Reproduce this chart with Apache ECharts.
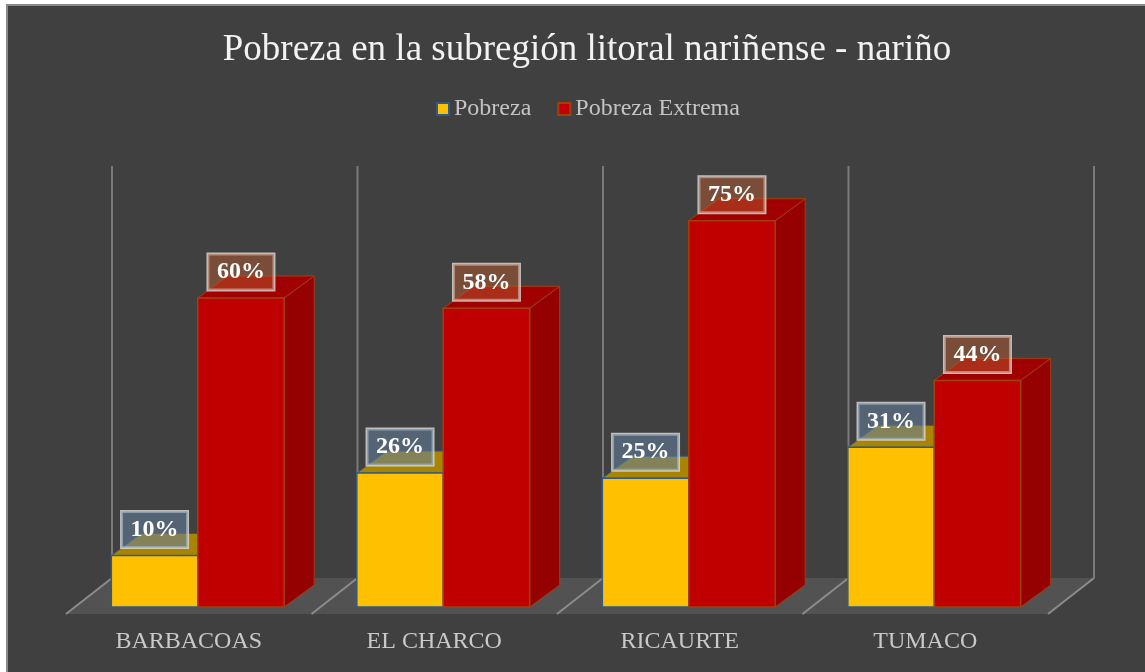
<!DOCTYPE html>
<html>
<head>
<meta charset="utf-8">
<script src="https://cdn.jsdelivr.net/npm/echarts@6/dist/echarts.min.js"></script>
<style>
  html, body { margin: 0; padding: 0; background: #fff; }
  #chart { width: 1145px; height: 672px; }
</style>
</head>
<body>
<div id="chart"></div>
<script>
const categories = ['BARBACOAS', 'EL CHARCO', 'RICAURTE', 'TUMACO'];
const pobreza = [10, 26, 25, 31];
const pobrezaExtrema = [60, 58, 75, 44];

const chart = echarts.init(document.getElementById('chart'));

// depth of the bars (3d look)
const DX = 30, DY = -22;
const FONT = '"Liberation Serif", "Times New Roman", serif';

function barRender(side, colors) {
    return function (params, api) {
        const i = api.value(0);
        const v = api.value(1);
        const base = api.coord([i, 0]);
        const top = api.coord([i, v]);
        const catW = api.size([1, 0])[0];
        const bw = catW * 0.352;
        const x0 = side === 'left' ? base[0] - bw : base[0];
        const x1 = x0 + bw;
        const y0 = base[1], y1 = top[1];
        return {
            type: 'group',
            children: [
                {
                    type: 'polygon',
                    shape: { points: [[x1, y1], [x1 + DX, y1 + DY], [x1 + DX, y0 + DY], [x1, y0]] },
                    style: { fill: colors.side, stroke: colors.border, lineWidth: 1 }
                },
                {
                    type: 'polygon',
                    shape: { points: [[x0, y1], [x1, y1], [x1 + DX, y1 + DY], [x0 + DX, y1 + DY]] },
                    style: { fill: colors.top, stroke: colors.border, lineWidth: 1 }
                },
                {
                    type: 'rect',
                    shape: { x: x0, y: y1, width: bw, height: y0 - y1 },
                    style: { fill: colors.front, stroke: colors.border, lineWidth: 1.5 }
                },
                {
                    type: 'text',
                    x: x0 + bw / 2,
                    y: y1 - 26,
                    style: {
                        text: v + '%',
                        fill: '#ffffff',
                        font: 'bold 24px ' + FONT,
                        align: 'center',
                        verticalAlign: 'middle',
                        lineHeight: 26,
                        backgroundColor: colors.label,
                        borderColor: 'rgba(220,220,220,0.8)',
                        borderWidth: 1.5,
                        padding: [5, 9, 5, 9]
                    }
                }
            ]
        };
    };
}

function floorRender(params, api) {
    const i = api.value(0);
    const c = api.coord([i, 0]);
    const wallTop = api.coord([i, 80])[1];
    const catW = api.size([1, 0])[0];
    const xl = c[0] - catW / 2, xr = c[0] + catW / 2;
    const y0 = c[1];
    const children = [{
        type: 'polygon',
        shape: { points: [[xl - 9, y0 + 7], [xr - 9, y0 + 7], [xr + 37, y0 - 29], [xl + 37, y0 - 29]] },
        style: { fill: '#525252' }
    }];
    const edges = [xl];
    if (i === categories.length - 1) edges.push(xr);
    edges.forEach(function (x) {
        children.push({
            type: 'line',
            shape: { x1: x - 9, y1: y0 + 7, x2: x + 37, y2: y0 - 29 },
            style: { stroke: '#8c8c8c', lineWidth: 2 }
        });
        children.push({
            type: 'line',
            shape: { x1: x + 37, y1: y0 - 29, x2: x + 37, y2: wallTop - 29 },
            style: { stroke: '#7a7a7a', lineWidth: 2 }
        });
    });
    return { type: 'group', children: children };
}

const option = {
    backgroundColor: '#ffffff',
    animation: false,
    graphic: {
        elements: [{
            type: 'rect',
            z: -100,
            shape: { x: 7, y: 5, width: 1150, height: 700 },
            style: { fill: '#404040', stroke: '#8a8a8a', lineWidth: 2 }
        }]
    },
    title: {
        text: 'Pobreza en la subregión litoral nariñense - nariño',
        left: 582,
        textAlign: 'center',
        top: 27,
        textStyle: {
            color: '#f2f2f2',
            fontFamily: FONT,
            fontWeight: 'normal',
            fontSize: 37
        }
    },
    legend: {
        data: ['Pobreza', 'Pobreza Extrema'],
        left: 436,
        top: 97,
        padding: 0,
        itemGap: 26,
        itemWidth: 12,
        itemHeight: 12,
        icon: 'rect',
        textStyle: { color: '#c4c4c4', fontFamily: FONT, fontSize: 24 }
    },
    grid: { left: 75, right: 88, top: 92, bottom: 65 },
    xAxis: {
        type: 'category',
        data: categories,
        axisLine: { show: false },
        axisTick: { show: false },
        splitLine: { show: false },
        axisLabel: {
            color: '#c9c9c9',
            fontFamily: FONT,
            fontSize: 24,
            margin: 23,
            padding: [0, 18, 0, 0]
        }
    },
    yAxis: {
        type: 'value',
        min: 0,
        max: 100,
        show: false,
        splitLine: { show: false }
    },
    series: [
        {
            type: 'custom',
            name: 'floor',
            clip: false,
            z: 1,
            renderItem: floorRender,
            data: categories.map(function (c, i) { return [i]; })
        },
        {
            type: 'custom',
            name: 'Pobreza',
            clip: false,
            z: 2,
            itemStyle: { color: '#ffc000', borderColor: '#2f5b8c', borderWidth: 1.5 },
            encode: { x: 0, y: 1 },
            renderItem: barRender('left', {
                front: '#ffc000', side: '#b38600', top: '#a88400',
                border: '#2f5b8c', label: 'rgba(100,130,160,0.55)'
            }),
            data: pobreza.map(function (v, i) { return [i, v]; })
        },
        {
            type: 'custom',
            name: 'Pobreza Extrema',
            clip: false,
            z: 2,
            itemStyle: { color: '#c00000', borderColor: '#a0400f', borderWidth: 1.5 },
            encode: { x: 0, y: 1 },
            renderItem: barRender('right', {
                front: '#c00000', side: '#950000', top: '#a00000',
                border: '#a0400f', label: 'rgba(180,90,50,0.5)'
            }),
            data: pobrezaExtrema.map(function (v, i) { return [i, v]; })
        }
    ]
};

chart.setOption(option);
</script>
</body>
</html>
